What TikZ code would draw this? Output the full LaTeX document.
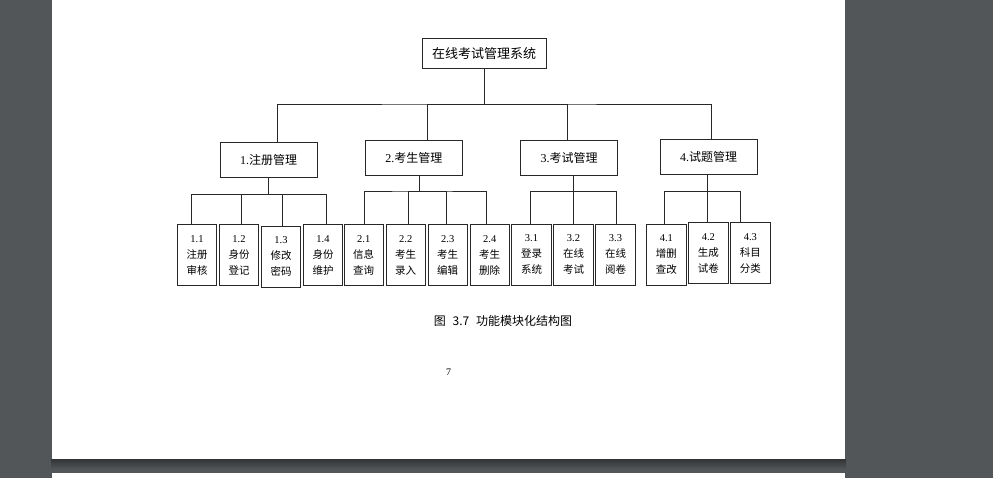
\documentclass[tikz,border=0pt]{standalone}
\usepackage{xcolor}
\usepackage{fontspec}
\setmainfont{Liberation Serif}
\newfontfamily\cjk{Noto Sans CJK SC}
\usepackage{tikz}
\usetikzlibrary{positioning}
\definecolor{viewerbg}{RGB}{82,86,89}
\definecolor{pageshadow}{RGB}{50,52,54}
\definecolor{boxline}{RGB}{40,40,40}
\newcommand{\leaftext}[3]{#1\\{\cjk #2}\\{\cjk #3}}

\begin{document}
\begin{tikzpicture}[x=1pt, y=-1pt, node distance=1.7pt,
    box/.style={draw=boxline, line width=0.8pt, rectangle, fill=white, inner sep=0pt, align=center},
    rootbox/.style={box, minimum width=124pt, minimum height=30pt, font=\cjk\fontsize{13}{15}\selectfont},
    modbox/.style={box, minimum width=97pt, minimum height=35pt, font=\fontsize{12}{14}\selectfont},
    leafbox/.style={box, minimum width=39.5pt, minimum height=61pt, font=\fontsize{10.5}{16}\selectfont},
    link/.style={draw=boxline, line width=0.8pt}]
    % viewer background and page
    \useasboundingbox (0,0) rectangle (993,478);
    \fill[viewerbg] (0,0) rectangle (993,478);
    \shade[top color=pageshadow, bottom color=viewerbg] (51,459) rectangle (846,469);
    \fill[white] (52,-2) rectangle (845,459);
    \fill[white] (52,473) rectangle (845,480);

    % top level
    \node[rootbox] (root) at (484,53.3) {在线考试管理系统};

    % modules
    \node[modbox] (m1) at (268.7,159.7) {1.{\cjk 注册管理}};
    \node[modbox] (m2) at (413.8,157.5) {2.{\cjk 考生管理}};
    \node[modbox] (m3) at (569,157.5) {3.{\cjk 考试管理}};
    \node[modbox] (m4) at (708.7,156.8) {4.{\cjk 试题管理}};

    % leaves
    \node[leafbox] (l11) at (197,255) {\leaftext{1.1}{注册}{审核}};
    \node[leafbox, right=of l11] (l12) {\leaftext{1.2}{身份}{登记}};
    \node[leafbox, right=of l12, yshift=-1.5pt] (l13) {\leaftext{1.3}{修改}{密码}};
    \node[leafbox, right=of l13, yshift=1.5pt] (l14) {\leaftext{1.4}{身份}{维护}};

    \node[leafbox] (l21) at (363.7,255) {\leaftext{2.1}{信息}{查询}};
    \node[leafbox, right=of l21] (l22) {\leaftext{2.2}{考生}{录入}};
    \node[leafbox, right=of l22] (l23) {\leaftext{2.3}{考生}{编辑}};
    \node[leafbox, right=of l23] (l24) {\leaftext{2.4}{考生}{删除}};

    \node[leafbox] (l31) at (531.5,254.5) {\leaftext{3.1}{登录}{系统}};
    \node[leafbox, right=of l31] (l32) {\leaftext{3.2}{在线}{考试}};
    \node[leafbox, right=of l32] (l33) {\leaftext{3.3}{在线}{阅卷}};

    \node[leafbox] (l41) at (666.4,254.7) {\leaftext{4.1}{增删}{查改}};
    \node[leafbox, right=of l41, yshift=1.5pt] (l42) {\leaftext{4.2}{生成}{试卷}};
    \node[leafbox, right=of l42] (l43) {\leaftext{4.3}{科目}{分类}};

    % root to modules
    \coordinate (j0) at (484,104);
    \draw[link] (root.south) -- (j0);
    \draw[link] ([xshift=8.6pt]m1.north) |- (j0) -| ([xshift=2.3pt]m4.north);
    \draw[link] ([xshift=13.9pt]m2.north) |- (j0);
    \draw[link] ([xshift=-1.3pt]m3.north) |- (j0);

    % modules to leaves
    \coordinate (j1) at (268.7,194.3);
    \draw[link] (m1.south) -- (j1);
    \draw[link] ([xshift=-5.3pt]l11.north) |- (j1) -| ([xshift=3pt]l14.north);
    \draw[link] ([xshift=2.7pt]l12.north) |- (j1);
    \draw[link] ([xshift=1.3pt]l13.north) |- (j1);

    \coordinate (j2) at (419.3,191);
    \draw[link] ([xshift=5.5pt]m2.south) -- (j2);
    \draw[link] ([xshift=0.6pt]l21.north) |- (j2) -| ([xshift=-3.7pt]l24.north);
    \draw[link] ([xshift=2.6pt]l22.north) |- (j2);
    \draw[link] ([xshift=-1pt]l23.north) |- (j2);

    \coordinate (j3) at (573.3,191.7);
    \draw[link] ([xshift=4.3pt]m3.south) -- (j3);
    \draw[link] ([xshift=-0.8pt]l31.north) |- (j3) -| ([xshift=1.2pt]l33.north);
    \draw[link] (l32.north) |- (j3);

    \coordinate (j4) at (707.3,191.7);
    \draw[link] ([xshift=-1.4pt]m4.south) -- (j4);
    \draw[link] ([xshift=-2.4pt]l41.north) |- (j4) -| ([xshift=-10.4pt]l43.north);
    \draw[link] ([xshift=-1.1pt]l42.north) |- (j4);

    % caption and page number
    \node[font=\cjk\fontsize{12}{14}\selectfont] (caption) at (503,321) {图\,\, 3.7\,\, 功能模块化结构图};
    \node[font=\fontsize{10}{12}\selectfont] (pageno) at (448.5,372) {7};
\end{tikzpicture}
\end{document}
